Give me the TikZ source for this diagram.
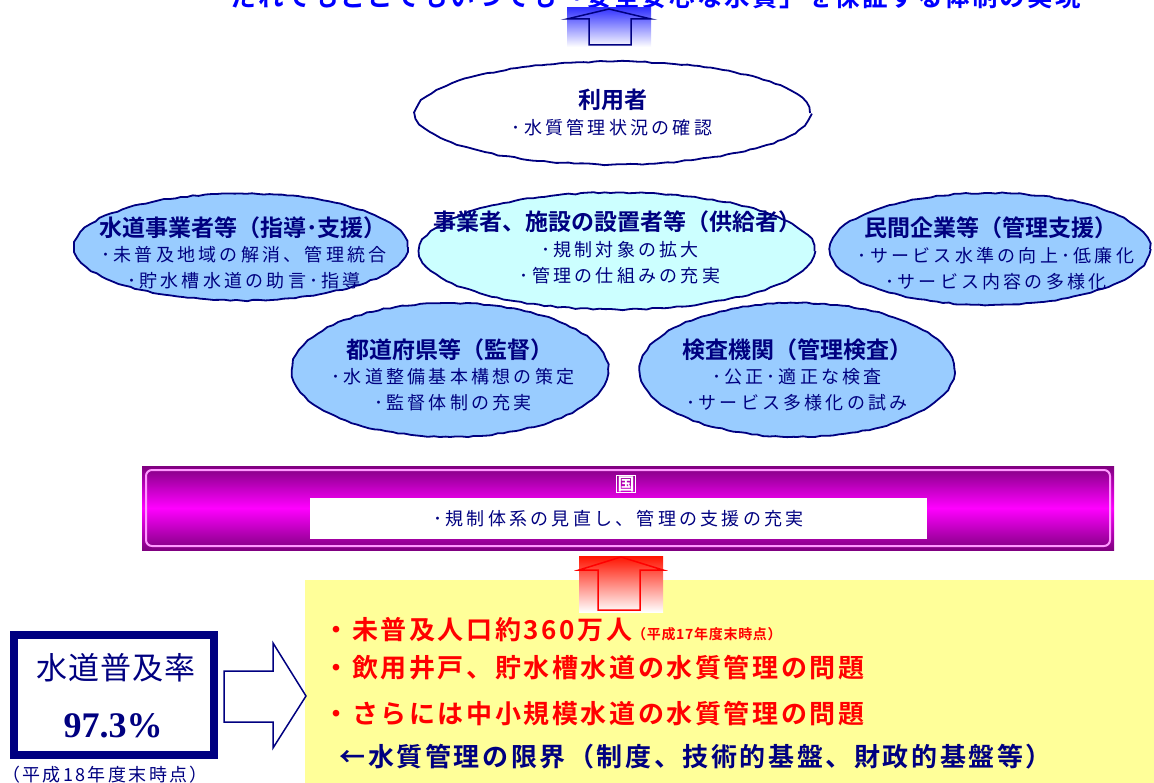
\documentclass[tikz,border=0pt]{standalone}
\usepackage{fontspec}
\setmainfont{Noto Sans CJK JP}[BoldFont={Noto Sans CJK JP Bold}]
\newfontfamily\numfont{Liberation Serif}
\usetikzlibrary{shapes.geometric, positioning, decorations.pathmorphing}
\definecolor{navy}{HTML}{000080}
\definecolor{skyfill}{HTML}{99CCFF}
\definecolor{cyanfill}{HTML}{CCFFFF}
\definecolor{padyellow}{HTML}{FFFF99}
\definecolor{goalblue}{HTML}{0000FF}
\definecolor{arrowblue}{HTML}{3333FF}
\definecolor{barpurple}{HTML}{800080}
\definecolor{barpink}{HTML}{FF99FF}

\begin{document}
\begin{tikzpicture}[x=1pt, y=-1pt,
  actor/.style={ellipse, draw=navy, line width=1.8pt, inner sep=0pt,
    decorate, decoration={random steps, segment length=6pt, amplitude=0.7pt}},
  head/.style={text=navy, font=\bfseries\fontsize{23}{26}\selectfont},
  item/.style={text=navy, align=center, font=\fontsize{18}{26}\selectfont\addfontfeature{LetterSpace=18}},
  issue/.style={anchor=west, text=red, font=\bfseries\fontsize{26}{30}\selectfont\addfontfeature{LetterSpace=10}}]
  \pgfmathsetseed{4}
  \useasboundingbox (0,0) rectangle (1154,783);

  % Goal line (cut at the top edge)
  \node[anchor=base, text=goalblue, font=\bfseries\fontsize{25.5}{28}\selectfont\addfontfeature{LetterSpace=8}]
    (goal) at (656,7) {だれでもどこでもいつでも「安全安心な水質」を保証する体制の実現};

  % Blue up arrow
  \shade[top color=arrowblue, bottom color=white] (567,8) rectangle (651,47);
  \draw[navy, line width=1.5pt, line join=miter]
    (589,45) -- (589,19) -- (567,19) -- (609,9) -- (651,19) -- (631,19) -- (631,45) -- cycle;

  % Actors
  \node[actor, fill=white, minimum width=394, minimum height=103] (userEll) at (613,113) {};
  \node[actor, fill=skyfill, minimum width=333, minimum height=107] (waterEll) at (241,247) {};
  \node[actor, fill=skyfill, minimum width=320, minimum height=112] (firmEll) at (990,249) {};
  \node[actor, fill=skyfill, minimum width=316, minimum height=134] (prefEll) at (450,370) {};
  \node[actor, fill=skyfill, minimum width=315, minimum height=134] (labEll) at (797,370) {};
  \node[actor, fill=cyanfill, minimum width=395, minimum height=117] (ownerEll) at (617,251) {};

  \node[head] (userHd) at (613,100) {利用者};
  \node[item] (userIt) at (612,128) {･水質管理状況の確認};

  \node[head] (waterHd) at (243,228) {水道事業者等（指導･支援）};
  \node[item] (waterIt) at (244,268) {･未普及地域の解消、管理統合\\･貯水槽水道の助言･指導};

  \node[head] (ownerHd) at (617,222) {事業者、施設の設置者等（供給者）};
  \node[item] (ownerIt) at (620,263) {･規制対象の拡大\\･管理の仕組みの充実};

  \node[head] (firmHd) at (991,228) {民間企業等（管理支援）};
  \node[item] (firmIt) at (996,269) {･サービス水準の向上･低廉化\\･サービス内容の多様化};

  \node[head] (prefHd) at (450,350) {都道府県等（監督）};
  \node[item] (prefIt) at (453,390) {･水道整備基本構想の策定\\･監督体制の充実};

  \node[head] (labHd) at (797,350) {検査機関（管理検査）};
  \node[item] (labIt) at (797,390) {･公正･適正な検査\\･サービス多様化の試み};

  % National government bar
  \shade[top color=barpurple, bottom color=barpurple, middle color=magenta] (142,466) rectangle (1114,550);
  \draw[barpink, line width=2pt, rounded corners=6pt] (146,470) rectangle (1110,546);
  \node[draw=white, line width=1.2pt, inner sep=1pt, text=white,
    font=\bfseries\fontsize{17}{19}\selectfont] (govTag) at (626,484) {国};
  \node[fill=white, inner sep=0pt, minimum width=617, minimum height=41] (govBox) at (618.5,518.5) {};
  \node[item] (govIt) at (govBox) {･規制体系の見直し、管理の支援の充実};

  % Present issues
  \fill[padyellow] (305,580) rectangle (1154,783);
  \shade[top color=red!85!orange, bottom color=white] (579,556) rectangle (663,612);
  \draw[red, line width=1.5pt, line join=miter]
    (598,610) -- (598,570) -- (579,570) -- (621,557) -- (663,570) -- (640,570) -- (640,610) -- cycle;

  \node[issue] (popLn) at (320,630) {・未普及人口約360万人{\fontsize{14}{16}\selectfont\addfontfeature{LetterSpace=5}（平成17年度末時点）}};
  \node[issue] (wellLn) at (320,668) {・飲用井戸、貯水槽水道の水質管理の問題};
  \node[issue] (smallLn) at (320,714) {・さらには中小規模水道の水質管理の問題};
  \node[issue, text=navy] (limitLn) at (336,757) {←水質管理の限界（制度、技術的基盤、財政的基盤等）};

  % Coverage rate
  \node[draw=navy, line width=8pt, fill=white, minimum width=200, minimum height=120] (rateBox) at (114,695) {};
  \node[text=navy, font=\fontsize{31}{34}\selectfont\addfontfeature{LetterSpace=3}] (rateHd) at (116,668) {水道普及率};
  \node[text=navy, font=\numfont\bfseries\fontsize{36}{40}\selectfont] (rateVal) at (113,726) {97.3\%};
  \node[text=navy, font=\fontsize{18}{20}\selectfont\addfontfeature{LetterSpace=13}] (rateNote) at (105,775) {（平成18年度末時点）};

  % Hollow right arrow
  \draw[navy, line width=1.5pt, fill=white, line join=miter]
    (224,671) -- (273,671) -- (273,643) -- (306,696) -- (273,748) -- (273,722) -- (224,722) -- cycle;
\end{tikzpicture}
\end{document}
